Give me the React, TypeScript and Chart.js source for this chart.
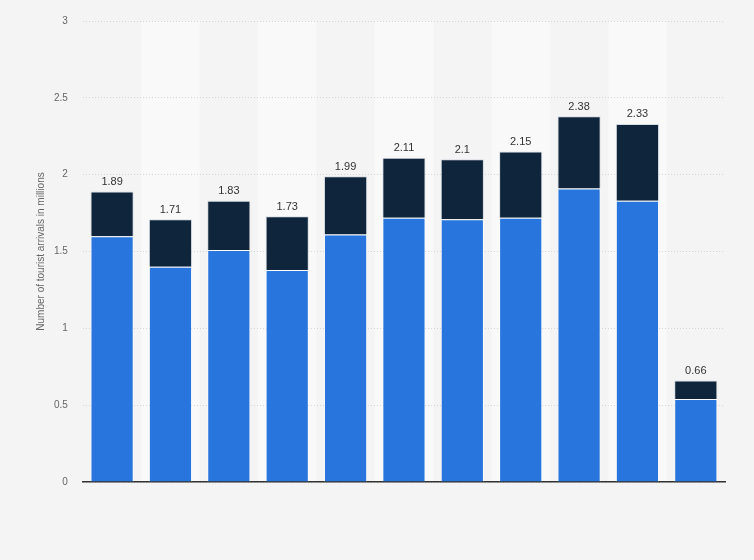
import { useEffect, useRef } from "react";
import { Chart, registerables } from "chart.js";
Chart.register(...registerables);

const years = ["2010", "2011", "2012", "2013", "2014", "2015", "2016", "2017", "2018", "2019", "2020"];
const lower = [1.6, 1.4, 1.51, 1.38, 1.61, 1.72, 1.71, 1.72, 1.91, 1.83, 0.54];
const upper = [0.29, 0.31, 0.32, 0.35, 0.38, 0.39, 0.39, 0.43, 0.47, 0.5, 0.12];
const totals = ["1.89", "1.71", "1.83", "1.73", "1.99", "2.11", "2.1", "2.15", "2.38", "2.33", "0.66"];
const yTicks = [0, 0.5, 1, 1.5, 2, 2.5, 3];

const FONT = "'Liberation Sans', Arial, sans-serif";

// lighter stripe behind every second column, drawn under the grid
const stripes = {
  id: "stripes",
  beforeDraw(chart: any) {
    const { ctx, chartArea, scales } = chart;
    const x = scales.x;
    const step = chartArea.width / years.length;
    ctx.save();
    ctx.fillStyle = "#f9f9f9";
    years.forEach((_, i) => {
      if (i % 2 === 1) {
        const cx = x.getPixelForValue(i);
        ctx.fillRect(cx - step / 2, chartArea.top, step, chartArea.bottom - chartArea.top);
      }
    });
    ctx.restore();
  },
};

// total above each stacked bar
const totalLabels = {
  id: "totalLabels",
  afterDatasetsDraw(chart: any) {
    const { ctx, scales } = chart;
    const meta = chart.getDatasetMeta(1);
    ctx.save();
    ctx.fillStyle = "#333333";
    ctx.font = `11px ${FONT}`;
    ctx.textAlign = "center";
    ctx.textBaseline = "bottom";
    meta.data.forEach((bar: any, i: number) => {
      const y = scales.y.getPixelForValue(lower[i] + upper[i]);
      ctx.fillText(totals[i], bar.x, y - 4);
    });
    ctx.restore();
  },
};

function StackedBars() {
  const canvasRef = useRef<HTMLCanvasElement>(null);

  useEffect(() => {
    if (!canvasRef.current) return;
    const ctx = canvasRef.current.getContext("2d");
    if (!ctx) return;

    const chart = new Chart(ctx, {
      type: "bar",
      data: {
        labels: years,
        datasets: [
          {
            label: "Lower",
            data: lower,
            backgroundColor: "#2876dd",
            borderColor: "rgba(255,255,255,0.5)",
            borderWidth: 1,
            barPercentage: 0.74,
            categoryPercentage: 1,
          },
          {
            label: "Upper",
            data: upper,
            backgroundColor: "#0f253c",
            borderColor: "rgba(190,200,210,0.6)",
            borderWidth: 1,
            barPercentage: 0.74,
            categoryPercentage: 1,
          },
        ],
      },
      plugins: [stripes, totalLabels],
      options: {
        responsive: false,
        animation: false,
        layout: { padding: { top: 14, right: 29, bottom: 70, left: 35 } },
        plugins: { legend: { display: false }, tooltip: { enabled: false } },
        scales: {
          x: {
            stacked: true,
            grid: { display: false },
            ticks: { display: false },
            border: { display: true, color: "#333333", width: 1.5 },
          },
          y: {
            stacked: true,
            min: 0,
            max: 3,
            afterBuildTicks: (axis: any) => {
              axis.ticks = yTicks.map((v) => ({ value: v }));
            },
            grid: { color: "#d4d4d4", drawTicks: false, lineWidth: 1 },
            border: { display: false, dash: [1, 2] },
            ticks: {
              color: "#666666",
              font: { size: 10, family: FONT },
              padding: 15,
              callback: (v: any) => String(v),
            },
            title: {
              display: true,
              text: "Number of tourist arrivals in millions",
              color: "#666666",
              font: { size: 10, family: FONT },
              padding: { top: 0, bottom: -8 },
            },
          },
        },
      },
    });

    return () => chart.destroy();
  }, []);

  return <canvas ref={canvasRef} width={754} height={560} style={{ display: "block" }} />;
}

export default function App() {
  useEffect(() => {
    document.body.style.margin = "0";
  }, []);
  return (
    <div style={{ width: 754, height: 560, background: "#f4f4f4" }}>
      <StackedBars />
    </div>
  );
}
